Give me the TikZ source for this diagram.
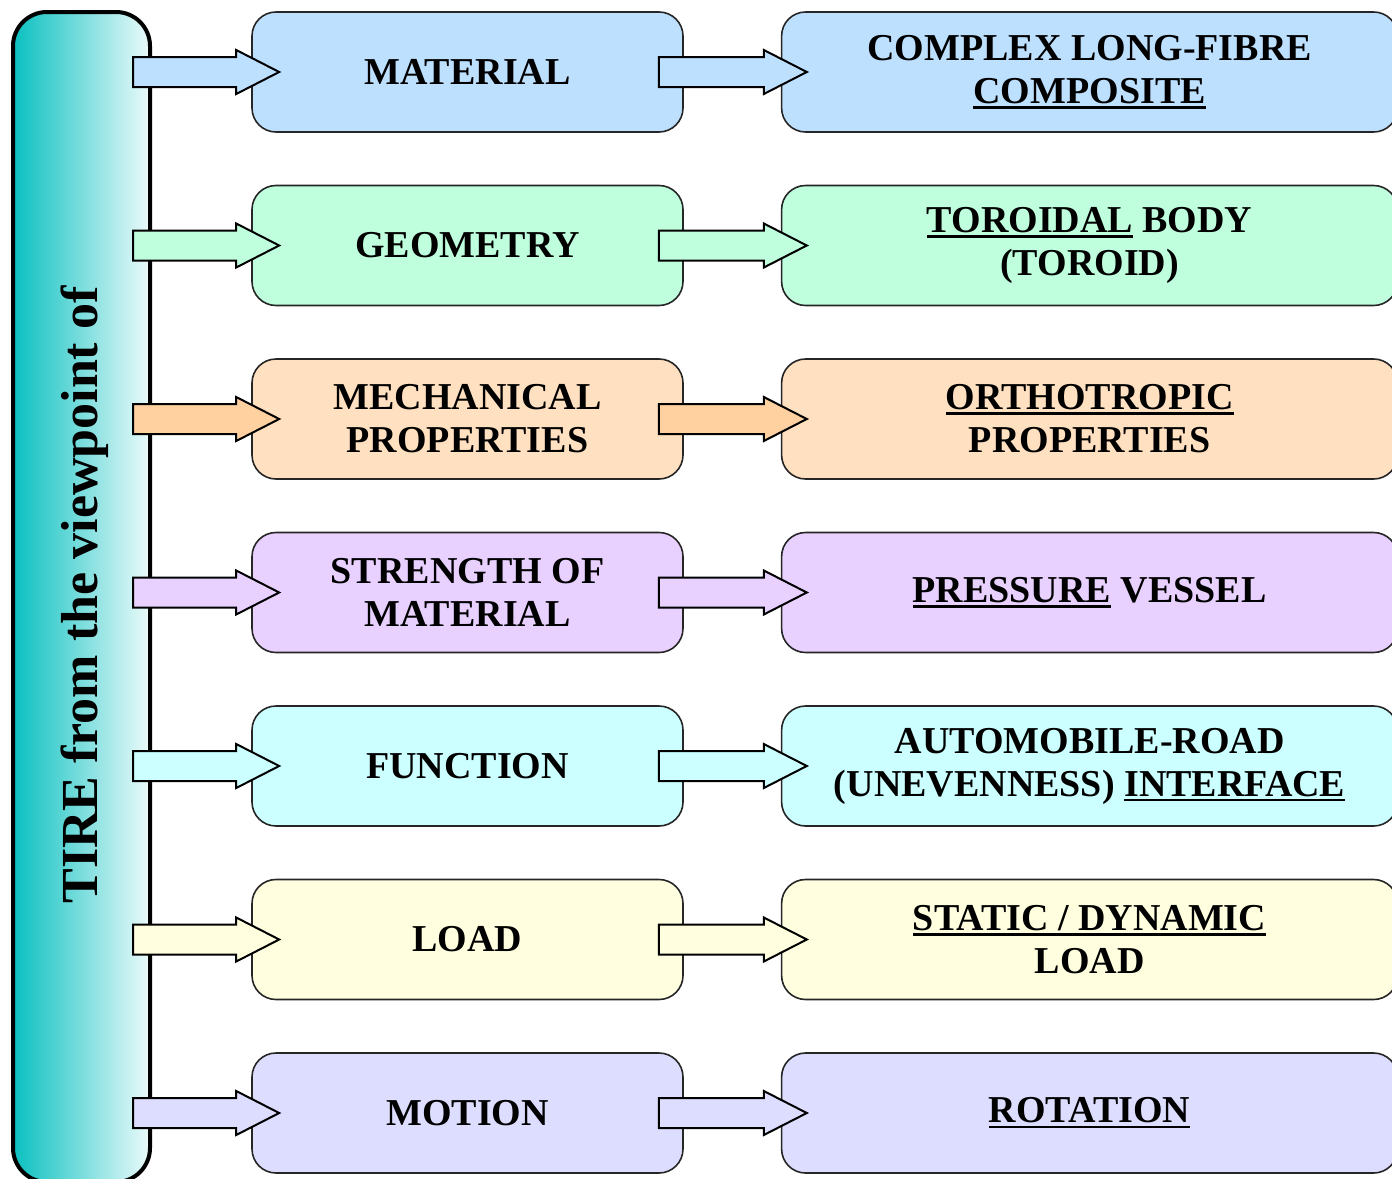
\documentclass[tikz,border=0pt]{standalone}
\usepackage{fontspec}
\setmainfont{Liberation Serif}
\usepackage{tikz}
\usetikzlibrary{positioning,calc}
\usepackage{xcolor}

\definecolor{matblue}{RGB}{190,224,255}
\definecolor{geomint}{RGB}{191,255,222}
\definecolor{mechpeach}{RGB}{255,224,192}
\definecolor{mecharrow}{RGB}{255,208,160}
\definecolor{strlilac}{RGB}{232,208,255}
\definecolor{funcyan}{RGB}{204,255,255}
\definecolor{loadyellow}{RGB}{255,255,224}
\definecolor{motionblue}{RGB}{221,221,255}
\definecolor{barteal}{RGB}{10,192,192}
\definecolor{barpale}{RGB}{236,250,250}

% thick underline used in the right column
\newcommand{\undl}[1]{\setbox0\hbox{#1}\leavevmode\rlap{\rule[-2.6pt]{\wd0}{1.3pt}}\box0\relax}
% block arrow from tail point #1 to tip point #2, filled with #3
\newcommand{\fatarrow}[3]{%
  \draw[fatarr, fill=#3] let \p1=(#1), \p2=(#2) in
    (\x1,\y2+7.5pt) -- (\x2-21.5pt,\y2+7.5pt) -- (\x2-21.5pt,\y2+11pt) -- (\x2,\y2)
    -- (\x2-21.5pt,\y2-11pt) -- (\x2-21.5pt,\y2-7.5pt) -- (\x1,\y2-7.5pt) -- cycle;}

\begin{document}
\begin{tikzpicture}[
  x=0.5pt, y=-0.5pt,
  node distance=25.95pt and 48.5pt,
  tirebar/.style={draw=black, line width=2pt, rounded corners=17pt, minimum width=68.5pt, minimum height=585pt, inner sep=0pt, left color=barteal, right color=barpale},
  prop/.style={draw=black!85, line width=0.8pt, rounded corners=12pt, minimum width=215.5pt, minimum height=60pt, align=center, font=\fontsize{19}{21.5}\selectfont\bfseries},
  model/.style={prop, minimum width=308pt},
  fatarr/.style={draw=black, line width=1pt, line join=miter}
]
  \useasboundingbox (0,0) rectangle (1392,1178);
  \node[tirebar] (bar) at (81.5,597) {};
  \node[rotate=90, font=\fontsize{26}{30}\selectfont\bfseries] (tire) at (85,595) {TIRE from the viewpoint of};

  \node[prop, fill=matblue] (mat) at (467.5,72) {MATERIAL};
  \node[prop, fill=geomint, below=of mat] (geo) {GEOMETRY};
  \node[prop, fill=mechpeach, below=of geo] (mech) {MECHANICAL\\PROPERTIES};
  \node[prop, fill=strlilac, below=of mech] (str) {STRENGTH OF\\MATERIAL};
  \node[prop, fill=funcyan, below=of str] (fun) {FUNCTION};
  \node[prop, fill=loadyellow, below=of fun] (load) {LOAD};
  \node[prop, fill=motionblue, below=of load] (mot) {MOTION};

  \node[model, fill=matblue, right=of mat] (matR) {COMPLEX LONG-FIBRE\\\undl{COMPOSITE}};
  \node[model, fill=geomint, right=of geo] (geoR) {\undl{TOROIDAL} BODY\\(TOROID)};
  \node[model, fill=mechpeach, right=of mech] (mechR) {\undl{ORTHOTROPIC}\\PROPERTIES};
  \node[model, fill=strlilac, right=of str] (strR) {\undl{PRESSURE} VESSEL};
  \node[model, fill=funcyan, right=of fun] (funR) {AUTOMOBILE-ROAD\\(UNEVENNESS) \undl{INTERFACE}};
  \node[model, fill=loadyellow, right=of load] (loadR) {\undl{STATIC / DYNAMIC}\\LOAD};
  \node[model, fill=motionblue, right=of mot] (motR) {\undl{ROTATION}};

  % arrows from the bar
  \fatarrow{$(bar.east |- mat.west)+(-19,0)$}{$(mat.west)+(28,0)$}{matblue}
  \fatarrow{$(bar.east |- geo.west)+(-19,0)$}{$(geo.west)+(28,0)$}{geomint}
  \fatarrow{$(bar.east |- mech.west)+(-19,0)$}{$(mech.west)+(28,0)$}{mecharrow}
  \fatarrow{$(bar.east |- str.west)+(-19,0)$}{$(str.west)+(28,0)$}{strlilac}
  \fatarrow{$(bar.east |- fun.west)+(-19,0)$}{$(fun.west)+(28,0)$}{funcyan}
  \fatarrow{$(bar.east |- load.west)+(-19,0)$}{$(load.west)+(28,0)$}{loadyellow}
  \fatarrow{$(bar.east |- mot.west)+(-19,0)$}{$(mot.west)+(28,0)$}{motionblue}

  % arrows between the columns
  \fatarrow{$(mat.east)+(-25,0)$}{$(matR.west)+(26,0)$}{matblue}
  \fatarrow{$(geo.east)+(-25,0)$}{$(geoR.west)+(26,0)$}{geomint}
  \fatarrow{$(mech.east)+(-25,0)$}{$(mechR.west)+(26,0)$}{mecharrow}
  \fatarrow{$(str.east)+(-25,0)$}{$(strR.west)+(26,0)$}{strlilac}
  \fatarrow{$(fun.east)+(-25,0)$}{$(funR.west)+(26,0)$}{funcyan}
  \fatarrow{$(load.east)+(-25,0)$}{$(loadR.west)+(26,0)$}{loadyellow}
  \fatarrow{$(mot.east)+(-25,0)$}{$(motR.west)+(26,0)$}{motionblue}
\end{tikzpicture}
\end{document}
